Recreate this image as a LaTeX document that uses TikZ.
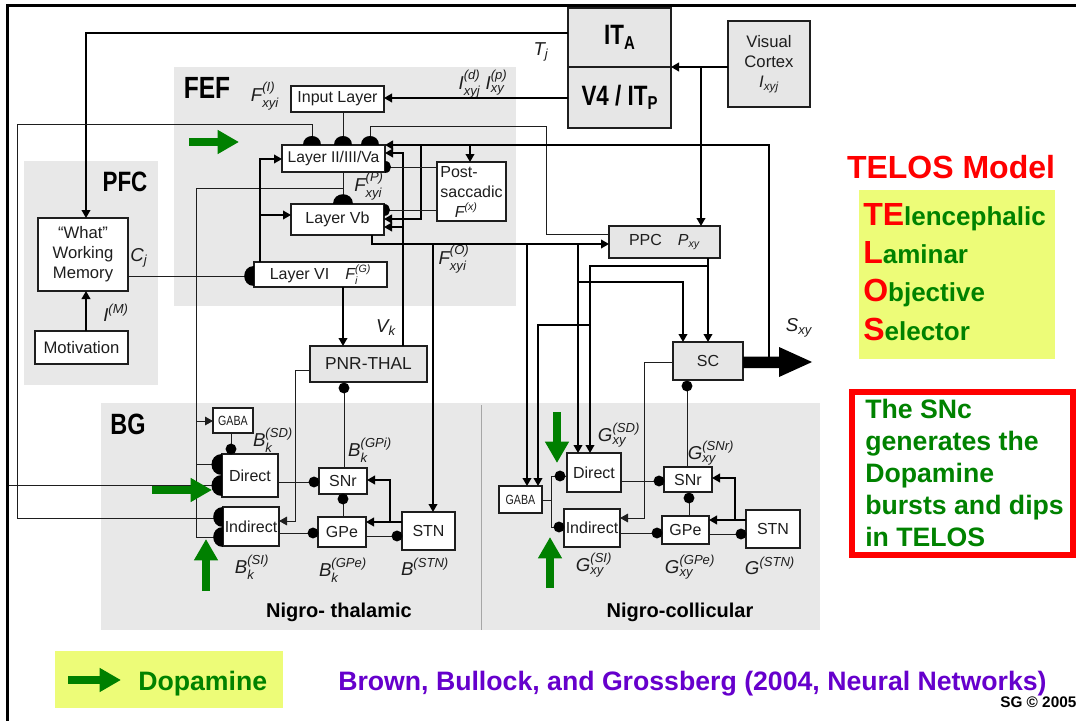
\documentclass[tikz,border=0pt]{standalone}
\usepackage{fontspec}
\usepackage{amsmath}
\setmainfont{Liberation Sans}
\newfontfamily\condfont[FakeStretch=0.8]{Liberation Sans}
\usetikzlibrary{arrows.meta}
\definecolor{regiongray}{RGB}{232,232,232}
\definecolor{boxgray}{RGB}{230,230,230}
\definecolor{telred}{RGB}{255,0,0}
\definecolor{telgreen}{RGB}{0,130,0}
\definecolor{dopgreen}{RGB}{0,128,0}
\definecolor{cityellow}{RGB}{237,252,120}
\definecolor{refpurple}{RGB}{102,0,204}
\definecolor{ink}{RGB}{30,30,30}
\newcommand\mybox[7]{\node[#6, minimum width={(#4-#2)*0.75pt}, minimum height={(#5-#3)*0.75pt}] (#1) at ({(#2+#4)/2},{(#3+#5)/2}) {#7};}
\newcommand\lab[3]{$\textit{#1}^{\textit{#2}}_{\textit{#3}}$}
\newcommand\labs[2]{$\textit{#1}_{\textit{#2}}$}
\newcommand\labp[2]{$\textit{#1}^{\textit{#2}}$}
\newcommand\semiN[3]{\fill[black] ({#1-#3},#2) .. controls ({#1-#3},{#2-1.333*#3}) and ({#1+#3},{#2-1.333*#3}) .. ({#1+#3},#2) -- cycle;}
\newcommand\semiW[3]{\fill[black] (#1,{#2-#3}) .. controls ({#1-1.333*#3},{#2-#3}) and ({#1-1.333*#3},{#2+#3}) .. (#1,{#2+#3}) -- cycle;}
\newcommand\semiE[3]{\fill[black] (#1,{#2-#3}) .. controls ({#1+1.333*#3},{#2-#3}) and ({#1+1.333*#3},{#2+#3}) .. (#1,{#2+#3}) -- cycle;}
\newcommand\dotat[2]{\fill[black] (#1,#2) circle[radius=4.1pt];}
\newcommand\acroR[1]{{\color{telred}\fontsize{24}{28}\selectfont #1}}
\newcommand\acroG[1]{{\color{telgreen}\fontsize{19.5}{24}\selectfont #1}}
\begin{document}
\begin{tikzpicture}[x=0.75pt,y=-0.75pt,
  box/.style={draw=ink, line width=0.9pt, fill=white, inner sep=0pt, outer sep=0pt, text=ink, font=\fontsize{12}{15}\selectfont, align=center},
  gbox/.style={box, fill=boxgray},
  gabastyle/.style={box, font=\condfont\fontsize{10}{12}\selectfont},
  yel/.style={fill=cityellow, inner sep=0pt, outer sep=0pt},
  redbox/.style={draw=telred, line width=4.5pt, inner sep=0pt, outer sep=0pt},
  title/.style={inner sep=0pt, text=black},
  lab/.style={inner sep=0pt, text=ink, font=\fontsize{14}{16}\selectfont},
  thin/.style={line width=0.7pt, draw=ink},
  med/.style={line width=1.3pt, draw=black},
  thick/.style={line width=2.2pt, draw=black},
  arr/.style={-{Triangle[length=6pt,width=6.5pt]}},
  garr/.style={draw=dopgreen, line width=6.5pt, -{Triangle[length=16pt,width=17pt]}},
  big/.style={inner sep=0pt, font=\bfseries\fontsize{20}{24}\selectfont}
]
\useasboundingbox (0,0) rectangle (1076,721);
% frame
\draw[line width=2.25pt] (7,721) -- (7,5) -- (1076,5);
% regions
\fill[regiongray] (174,67) rectangle (516,306);
\fill[regiongray] (24,161) rectangle (158,385);
\fill[regiongray] (101,403) rectangle (820,630);
\draw[gray!70, line width=0.6pt] (481,405) -- (481,630);
\node[title, font=\condfont\bfseries\fontsize{23}{26}\selectfont] (tFEF) at (207,88) {FEF};
\node[title, font=\condfont\bfseries\fontsize{21}{24}\selectfont] (tPFC) at (125,182) {PFC};
\node[title, font=\condfont\bfseries\fontsize{22}{24}\selectfont] (tBG) at (128,424) {BG};
\node[title, font=\bfseries\fontsize{15}{18}\selectfont, anchor=base] (tNT) at (339,617) {Nigro- thalamic};
\node[title, font=\bfseries\fontsize{15}{18}\selectfont, anchor=base] (tNC) at (680,617) {Nigro-collicular};
% boxes
\mybox{ita}{568}{8}{671}{67}{gbox, font=\condfont\bfseries\fontsize{21}{24}\selectfont, text=black}{IT\raisebox{-0.3ex}{\fontsize{14}{16}\selectfont A}}
\mybox{v4}{568}{67}{671}{128}{gbox, font=\condfont\bfseries\fontsize{21}{24}\selectfont, text=black}{V4 / IT\raisebox{-0.3ex}{\fontsize{14}{16}\selectfont P}}
\mybox{vc}{728}{21}{810}{107}{gbox, font=\fontsize{12.5}{15}\selectfont}{Visual\\Cortex\\\labs{I}{xyj}}
\mybox{inp}{291}{86}{384}{112}{box}{Input Layer}
\mybox{ly23}{282}{145}{385}{172}{box, font=\fontsize{11.7}{14}\selectfont}{Layer II/III/Va}
\mybox{ly5}{291}{204}{384}{235}{box}{Layer Vb}
\mybox{ly6}{254}{262}{387}{287}{box}{Layer VI\quad\lab{F}{(G)}{i}}
\mybox{post}{437}{162}{506}{221}{box, align=left}{Post-\\saccadic\\\hspace*{0.9em}\labp{F}{(x)}}
\mybox{ppc}{609}{226}{720}{258}{gbox}{PPC\quad\labs{P}{xy}}
\mybox{sc}{673}{342}{743}{380}{gbox}{SC}
\mybox{wm}{38}{218}{128}{291}{box, font=\fontsize{12.5}{15}\selectfont}{“What”\\Working\\Memory}
\mybox{mot}{35}{331}{128}{364}{box, font=\fontsize{12.5}{15}\selectfont}{Motivation}
\mybox{pnr}{310}{346}{427}{382}{gbox, font=\fontsize{13}{15}\selectfont}{PNR-THAL}
\mybox{gabaL}{213}{408}{253}{433}{gabastyle}{GABA}
\mybox{dirL}{222}{454}{278}{497}{box}{Direct}
\mybox{indL}{223}{507}{279}{546}{box}{Indirect}
\mybox{snrL}{319}{468}{367}{494}{box}{SNr}
\mybox{gpeL}{318}{517}{366}{547}{box}{GPe}
\mybox{stnL}{402}{512}{455}{550}{box}{STN}
\mybox{gabaR}{499}{486}{542}{513}{gabastyle}{GABA}
\mybox{dirR}{567}{453}{621}{492}{box}{Direct}
\mybox{indR}{564}{509}{620}{547}{box}{Indirect}
\mybox{snrR}{664}{467}{712}{492}{box}{SNr}
\mybox{gpeR}{662}{516}{709}{544}{box}{GPe}
\mybox{stnR}{746}{510}{800}{548}{box}{STN}
% labels
\node[lab] (lFI) at (265,96) {\lab{F}{(I)}{xyi}};
\node[lab] (lId) at (483,84) {\lab{I}{(d)}{xyj}\ \lab{I}{(p)}{xy}};
\node[lab] (lTj) at (541,52) {\labs{T}{j}};
\node[lab] (lFP) at (369,186) {\lab{F}{(P)}{xyi}};
\node[lab] (lFO) at (454,259) {\lab{F}{(O)}{xyi}};
\node[lab] (lCj) at (139,258) {\labs{C}{j}};
\node[lab] (lIM) at (116,313) {\labp{I}{(M)}};
\node[lab] (lVk) at (386,328) {\labs{V}{k}};
\node[lab] (lBSD) at (273,440) {\lab{B}{(SD)}{k}};
\node[lab] (lBGPi) at (370,450) {\lab{B}{(GPi)}{k}};
\node[lab] (lBSI) at (252,567) {\lab{B}{(SI)}{k}};
\node[lab] (lBGPe) at (343,570) {\lab{B}{(GPe)}{k}};
\node[lab] (lBSTN) at (425,567) {\labp{B}{(STN)}};
\node[lab] (lGSD) at (619,435) {\lab{G}{(SD)}{xy}};
\node[lab] (lGSNr) at (711,453) {\lab{G}{(SNr)}{xy}};
\node[lab] (lGSI) at (594,565) {\lab{G}{(SI)}{xy}};
\node[lab] (lGGPe) at (690,567) {\lab{G}{(GPe)}{xy}};
\node[lab] (lGSTN) at (770,566) {\labp{G}{(STN)}};
\node[lab] (lSxy) at (799,328) {\labs{S}{xy}};
% connectors
\coordinate (leftin) at (9,485);
\draw[med,arr] (ita.west |- 0,33) -- (86,33) -- (wm.north -| 86,0);
\draw[med,arr] (mot.north -| 86,0) -- (wm.south -| 86,0);
\draw[thin] (wm.east |- 0,276) -- (ly6.west |- 0,276);
\draw[thin] (ly23.north -| 312,0) -- (312,124) -- (17,124) -- (17,518) -- (indL.west |- 0,518);
\draw[thin] (leftin) -- (dirL.west |- 0,485);
\draw[thin] (inp.south -| 343,0) -- (ly23.north -| 343,0);
\draw[thin] (ppc.west |- 0,234) -- (546,234) -- (546,126) -- (370,126) -- (ly23.north -| 370,0);
\draw[thick,arr] (769,357) -- (769,145) -- (ly23.north east);
\draw[med,arr] (470,145) -- (post.north -| 470,0);
\draw[thick,arr] (421,145) -- (421,219) -- (ly5.east |- 0,219);
\draw[med,arr] (pnr.north -| 403,0) -- (403,153) -- (ly23.east |- 0,153);
\draw[med,arr] (403,227) -- (ly5.east |- 0,227);
\draw[thin] (post.west |- 0,167) -- (ly23.east |- 0,167);
\draw[thin] (post.west |- 0,210) -- (ly5.east |- 0,210);
\draw[thin] (ly23.south -| 343,0) -- (ly5.north -| 343,0);
\draw[thin] (343,188) -- (196,188) -- (196,537) -- (indL.west |- 0,537);
\draw[thin,arr] (196,421) -- (gabaL.west |- 0,421);
\draw[thin] (196,464) -- (dirL.west |- 0,464);
\draw[med,arr] (ly6.north -| 260,0) -- (260,159) -- (ly23.west |- 0,159);
\draw[med,arr] (260,215) -- (ly5.west |- 0,215);
\draw[med,arr] (ly6.south -| 343,0) -- (pnr.north -| 343,0);
\draw[med,arr] (ly5.south -| 372,0) -- (372,244) -- (ppc.west |- 0,244);
\draw[med,arr] (433,244) -- (stnL.north -| 433,0);
\draw[med,arr] (527,244) -- (gabaR.north -| 527,0);
\draw[med,arr] (578,244) -- (dirR.north -| 578,0);
\draw[med,arr] (578,282) -- (683,282) -- (sc.north -| 683,0);
\draw[med,arr] (ppc.south -| 708,0) -- (sc.north -| 708,0);
\draw[med,arr] (708,266) -- (590,266) -- (dirR.north -| 590,0);
\draw[med,arr] (590,325) -- (538,325) -- (gabaR.north -| 538,0);
\draw[med,arr] (vc.west |- 0,67) -- (ita.south east);
\draw[med,arr] (701,67) -- (ppc.north -| 701,0);
\draw[med,arr] (v4.west |- 0,98) -- (inp.east |- 0,98);
\draw[thin,arr] (pnr.west |- 0,370) -- (295,370) -- (295,521) -- (indL.east |- 0,521);
\draw[thin,arr] (sc.west |- 0,362) -- (644,362) -- (644,518) -- (indR.east |- 0,518);
\draw[thin] (snrL.north -| 344,0) -- (pnr.south -| 344,0);
\draw[thin] (snrR.north -| 687,0) -- (sc.south -| 687,0);
\draw[thin] (gabaL.south -| 231,0) -- (dirL.north -| 231,0);
\draw[thin] (dirL.east |- 0,482) -- (snrL.west |- 0,482);
\draw[thin] (indL.east |- 0,533) -- (gpeL.west |- 0,533);
\draw[thin] (gpeL.north -| 343,0) -- (snrL.south -| 343,0);
\draw[med,arr] (stnL.west |- 0,522) -- (gpeL.east |- 0,522);
\draw[med,arr] (390,522) -- (390,480) -- (snrL.east |- 0,480);
\draw[thin] (gpeL.east |- 0,536) -- (stnL.west |- 0,536);
\draw[thin] (dirR.east |- 0,481) -- (snrR.west |- 0,481);
\draw[thin] (indR.east |- 0,533) -- (gpeR.west |- 0,533);
\draw[thin] (gpeR.north -| 689,0) -- (snrR.south -| 689,0);
\draw[med,arr] (stnR.west |- 0,520) -- (gpeR.east |- 0,520);
\draw[med,arr] (735,520) -- (735,478) -- (snrR.east |- 0,478);
\draw[thin] (gpeR.east |- 0,534) -- (stnR.west |- 0,534);
\draw[thin] (gabaR.east |- 0,500) -- (551,500);
\draw[thin] (dirR.west |- 0,476) -- (551,476) -- (551,527) -- (indR.west |- 0,527);
% terminals: half discs
\semiN{312}{145}{9}
\semiN{343}{145}{9}
\semiN{370}{145}{9}
\semiN{343}{204}{10}
\semiE{385}{167}{6}
\semiE{384}{210}{6}
\semiW{254}{276}{10}
\semiW{222}{464.5}{10.5}
\semiW{222}{485.5}{10.5}
\semiW{223}{517}{10}
\semiW{223}{537}{10}
% terminals: dots
\dotat{344}{388}
\dotat{687}{386}
\dotat{231}{449}
\dotat{314}{482}
\dotat{313}{533}
\dotat{343}{499}
\dotat{397}{536}
\dotat{659}{481}
\dotat{657}{533}
\dotat{689}{498}
\dotat{741}{534}
\dotat{560}{476}
\dotat{559}{527}
% big output arrow
\fill[black] (sc.east |- 0,356.5) -- (779,356.5) -- (779,347) -- (812,362) -- (779,377) -- (779,368) -- (sc.east |- 0,368) -- cycle;
% dopamine arrows
\draw[garr] (189,142) -- (239,142);
\draw[garr] (152,490) -- (212,490);
\draw[garr] (206,591) -- (206,539);
\draw[garr] (557,412) -- (557,463);
\draw[garr] (550,588) -- (550,537);
% TELOS
\node[big, text=telred, font=\bfseries\fontsize{24}{28}\selectfont] (telos) at (951,167) {TELOS Model};
\mybox{acro}{859}{190}{1055}{359}{yel}{}
\node[anchor=base west, inner sep=0pt, font=\bfseries] (a1) at (863,225) {\acroR{TE}\acroG{lencephalic}};
\node[anchor=base west, inner sep=0pt, font=\bfseries] (a2) at (863,263) {\acroR{L}\acroG{aminar}};
\node[anchor=base west, inner sep=0pt, font=\bfseries] (a3) at (863,301) {\acroR{O}\acroG{bjective}};
\node[anchor=base west, inner sep=0pt, font=\bfseries] (a4) at (863,340) {\acroR{S}\acroG{elector}};
\mybox{snc}{852}{392}{1073}{555}{redbox}{}
\node[big, text=telgreen, anchor=base west] (s1) at (865,418) {The SNc};
\node[big, text=telgreen, anchor=base west] (s2) at (865,450) {generates the};
\node[big, text=telgreen, anchor=base west] (s3) at (865,482) {Dopamine};
\node[big, text=telgreen, anchor=base west] (s4) at (865,514) {bursts and dips};
\node[big, text=telgreen, anchor=base west] (s5) at (865,546) {in TELOS};
% legend and reference
\mybox{legend}{55}{651}{283}{708}{yel}{}
\draw[garr] (68,680) -- (121,680);
\node[big, text=telgreen, anchor=base west] (dop) at (138,690) {Dopamine};
\node[big, text=refpurple, anchor=base west] (ref) at (338,690) {Brown, Bullock, and Grossberg (2004, Neural Networks)};
\node[inner sep=0pt, anchor=base west, font=\bfseries\fontsize{11.5}{13}\selectfont] (sg) at (1000,707) {SG © 2005};
\end{tikzpicture}
\end{document}
